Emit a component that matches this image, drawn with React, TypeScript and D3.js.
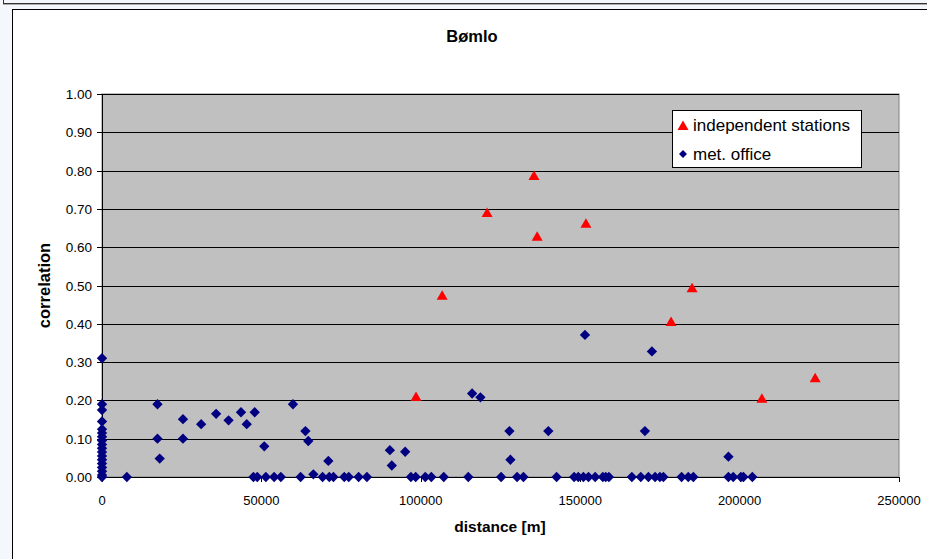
import React from "react";
import * as d3 from "d3";

const W = 927;
const H = 559;

const yTicks = [0, 0.1, 0.2, 0.3, 0.4, 0.5, 0.6, 0.7, 0.8, 0.9, 1.0];
const xTicks = [0, 50000, 100000, 150000, 200000, 250000];

// independent stations: [distance, correlation]
const independentStations: [number, number][] = [
  [98500, 0.209],
  [106700, 0.473],
  [120800, 0.689],
  [135500, 0.786],
  [136500, 0.627],
  [151800, 0.661],
  [178500, 0.405],
  [185100, 0.493],
  [207000, 0.204],
  [223700, 0.258],
];

// met. office points at distance 0
const metOfficeZeroDistance = [
  0.31, 0.19, 0.175, 0.145, 0.125, 0.115, 0.105, 0.095, 0.085, 0.075, 0.065,
  0.055, 0.045, 0.035, 0.025, 0.015, 0.005, 0,
];

// met. office points with non-zero correlation
const metOfficeOther: [number, number][] = [
  [7800, 0], [17400, 0.19], [17400, 0.1], [18100, 0.048], [25400, 0.151],
  [25400, 0.1], [31100, 0.138], [35800, 0.165], [39700, 0.148], [43600, 0.169],
  [45400, 0.138], [47900, 0.169], [50900, 0.08], [59900, 0.19], [63800, 0.12],
  [64700, 0.094], [66300, 0.007], [71000, 0.042], [90300, 0.07], [90900, 0.03],
  [95100, 0.066], [116100, 0.218], [118700, 0.208], [127800, 0.12],
  [128100, 0.045], [140000, 0.12], [151500, 0.371], [172500, 0.328],
  [170300, 0.12], [196500, 0.053],
];

// met. office points with correlation 0
const metOfficeZeroCorr = [
  47500, 48700, 51400, 54000, 56100, 62300, 69200, 71300, 72600, 76000, 77400,
  80500, 83100, 96900, 98400, 101400, 103300, 107200, 114900, 125200, 130200,
  132200, 142600, 148100, 149400, 151000, 152600, 154700, 157100, 158000,
  159000, 166200, 169000, 171400, 173500, 175000, 176100, 181800, 183900,
  185500, 196500, 198000, 200400, 201200, 204000,
];

const metOffice: [number, number][] = [
  ...metOfficeZeroDistance.map((v) => [0, v] as [number, number]),
  ...metOfficeOther,
  ...metOfficeZeroCorr.map((d) => [d, 0] as [number, number]),
];

const PL = 102;
const PR = 899;
const PT = 94;
const PB = 477;

export default function App() {
  const x = d3.scaleLinear().domain([0, 250000]).range([PL, PR]);
  const y = d3.scaleLinear().domain([0, 1]).range([PB, PT]);
  const font = "Arial, 'Liberation Sans', sans-serif";
  const diamond = d3.symbol().type(d3.symbolDiamond2).size(68)() as string;
  const tri = (cx: number, cy: number) =>
    `M${cx},${cy - 5.5}L${cx + 5.5},${cy + 4}L${cx - 5.5},${cy + 4}Z`;

  return (
    <svg
      width={W}
      height={H}
      style={{ position: "absolute", left: 0, top: 0 }}
      fontFamily={font}
    >
      <rect x={0} y={0} width={W} height={H} fill="#f4f7fb" />
      <line x1={3} y1={3.5} x2={W} y2={3.5} stroke="#333" />
      <line x1={3} y1={4.5} x2={W} y2={4.5} stroke="#aaa" />
      <line x1={3.5} y1={0} x2={3.5} y2={4} stroke="#333" />
      <rect x={12.5} y={9.5} width={W + 10} height={H + 10} fill="#fff" stroke="#000" />

      <text x={472} y={42} textAnchor="middle" fontWeight="bold" fontSize={16.5}>
        Bømlo
      </text>

      <rect x={PL} y={PT} width={PR - PL} height={PB - PT} fill="#c0c0c0" stroke="#808080" />
      {yTicks.map((t) => (
        <g key={"y" + t}>
          <line x1={PL} x2={PR} y1={Math.round(y(t)) + 0.5} y2={Math.round(y(t)) + 0.5} stroke="#000" />
          <line x1={PL - 5} x2={PL} y1={Math.round(y(t)) + 0.5} y2={Math.round(y(t)) + 0.5} stroke="#000" />
          <text x={92} y={y(t) + 5} textAnchor="end" fontSize={13.5}>
            {d3.format(".2f")(t)}
          </text>
        </g>
      ))}
      <line x1={PL + 0.5} x2={PL + 0.5} y1={PT} y2={PB} stroke="#000" />
      {xTicks.map((t) => (
        <g key={"x" + t}>
          <line x1={Math.round(x(t)) + 0.5} x2={Math.round(x(t)) + 0.5} y1={PB} y2={PB + 5} stroke="#000" />
          <text x={x(t)} y={505} textAnchor="middle" fontSize={13}>
            {String(t)}
          </text>
        </g>
      ))}

      {metOffice.map(([dx, v], i) => (
        <path key={"m" + i} d={diamond} transform={`translate(${x(dx)},${y(v)})`} fill="#000080" />
      ))}
      {independentStations.map(([dx, v], i) => (
        <path key={"s" + i} d={tri(x(dx), y(v))} fill="#ff0000" />
      ))}

      <text x={500} y={532} textAnchor="middle" fontWeight="bold" fontSize={15.5}>
        distance [m]
      </text>
      <text
        transform={`translate(50,${(PT + PB) / 2}) rotate(-90)`}
        textAnchor="middle"
        fontWeight="bold"
        fontSize={16.5}
      >
        correlation
      </text>

      <rect x={672.5} y={110.5} width={189} height={57} fill="#fff" stroke="#000" />
      <path d={tri(683, 126)} fill="#ff0000" />
      <text x={693} y={131} fontSize={17}>
        independent stations
      </text>
      <path d={d3.symbol().type(d3.symbolDiamond2).size(40)() as string} transform="translate(683,154)" fill="#000080" />
      <text x={693} y={160} fontSize={17}>
        met. office
      </text>
    </svg>
  );
}
